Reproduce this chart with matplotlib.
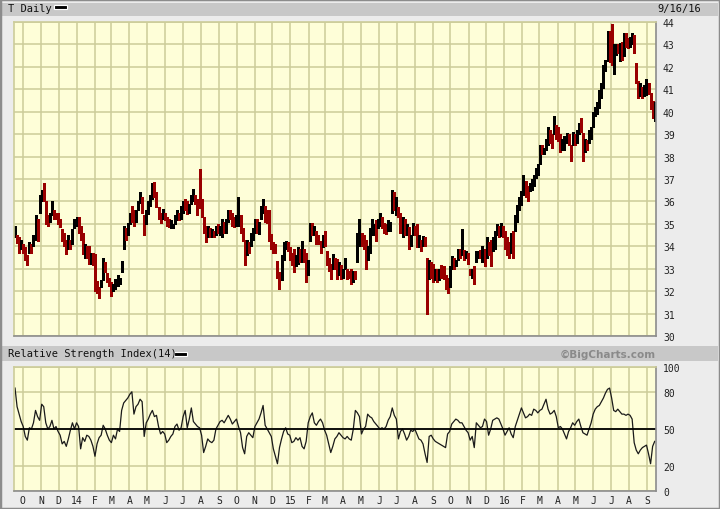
#!/usr/bin/env python3
# T Daily price bars with RSI(14) panel, BigCharts style
# values, two bars per trading week

import pandas as pd
import matplotlib
matplotlib.use("Agg")
import matplotlib.pyplot as plt
import matplotlib.dates as mdates
from matplotlib.patches import Rectangle

# Data: half-week periods (3.5 days) from 9/16/13 to 9/16/16
period_start = pd.date_range("2013-09-16", periods=313, freq="84h")

high = [34.9, 34.5, 34.4, 34.3, 34.1, 33.95, 33.6, 34.2, 34.1, 34.5,
        35.4, 35.2, 36.3, 36.5, 36.8, 36.0, 35.4, 35.5, 36.0, 35.6,
        35.5, 35.5, 35.2, 34.75, 34.6, 34.3, 34.5, 34.3, 34.75, 35.2,
        35.3, 35.3, 34.9, 34.6, 34.1, 34.0, 34.0, 33.7, 33.7, 33.65,
        32.45, 32.2, 32.5, 33.5, 33.3, 32.8, 32.6, 32.4, 32.3, 32.55,
        32.7, 32.6, 33.35, 34.9, 34.8, 35.05, 35.5, 35.8, 35.6, 35.6,
        36.0, 36.4, 36.2, 35.4, 35.6, 36.0, 36.3, 36.8, 36.85, 36.4,
        35.75, 35.5, 35.65, 35.5, 35.3, 35.2, 35.15, 35.0, 35.4, 35.6,
        35.5, 35.8, 36.0, 36.1, 36.0, 35.9, 36.3, 36.55, 36.3, 36.1,
        37.45, 36.1, 35.3, 34.9, 34.9, 34.8, 34.75, 34.7, 34.9, 35.0,
        34.9, 35.2, 35.1, 35.2, 35.6, 35.6, 35.5, 35.3, 35.4, 36.2,
        35.4, 34.8, 34.3, 34.3, 34.2, 34.6, 34.8, 35.2, 35.2, 35.1,
        35.8, 36.1, 35.8, 35.6, 35.6, 34.55, 34.2, 34.1, 33.35, 32.85,
        33.6, 34.2, 34.25, 34.2, 33.95, 33.7, 33.9, 33.6, 33.95, 33.9,
        34.25, 33.9, 33.7, 33.4, 35.05, 35.05, 34.9, 34.7, 34.5, 34.25,
        34.5, 34.7, 33.8, 33.5, 33.2, 33.65, 33.5, 33.45, 33.3, 33.15,
        33.0, 33.5, 33.0, 32.9, 33.0, 32.9, 32.9, 34.6, 35.2, 34.6,
        34.5, 34.3, 34.0, 34.8, 35.2, 35.0, 35.15, 35.2, 35.5, 35.3,
        35.05, 35.0, 35.15, 35.1, 36.5, 36.4, 36.2, 35.75, 35.5, 35.3,
        35.2, 35.0, 34.85, 34.5, 35.05, 34.9, 35.0, 34.5, 34.3, 34.45,
        34.4, 33.5, 33.4, 33.3, 33.2, 33.0, 33.0, 33.0, 33.15, 33.1,
        32.7, 32.6, 33.1, 33.55, 33.5, 33.4, 33.9, 33.9, 34.75, 33.85,
        33.8, 33.7, 33.0, 33.0, 33.1, 33.8, 33.8, 33.85, 34.0, 33.9,
        34.4, 34.2, 34.3, 34.4, 34.7, 35.0, 34.9, 35.05, 34.9, 34.7,
        34.4, 34.2, 34.6, 34.7, 35.4, 35.85, 36.2, 36.45, 37.2, 36.9,
        36.7, 36.8, 37.0, 37.2, 37.5, 37.65, 38.5, 38.5, 38.4, 38.8,
        39.3, 39.2, 39.0, 39.8, 39.4, 39.3, 39.0, 38.8, 38.9, 39.05,
        39.0, 38.5, 39.1, 39.0, 39.2, 39.5, 39.7, 39.05, 38.8, 38.75,
        39.2, 39.3, 40.0, 40.2, 40.45, 40.95, 41.3, 42.1, 42.3, 43.6,
        43.6, 43.9, 43.0, 43.0, 43.0, 43.05, 43.1, 43.5, 43.5, 43.3,
        43.35, 43.5, 43.4, 42.15, 41.35, 41.3, 41.1, 41.2, 41.45, 41.3,
        40.85, 40.5, 40.45]

low = [34.4, 34.15, 33.7, 33.9, 33.7, 33.4, 33.15, 33.7, 33.7, 34.0,
       34.3, 34.25, 35.5, 36.0, 36.0, 35.0, 34.9, 35.1, 35.4, 35.2,
       35.2, 35.0, 34.85, 34.25, 34.0, 33.65, 33.9, 33.9, 34.1, 34.8,
       34.9, 34.6, 34.3, 33.65, 33.5, 33.5, 33.2, 33.2, 33.15, 32.0,
       31.9, 31.7, 32.2, 32.5, 32.85, 32.4, 32.25, 31.8, 32.0, 32.1,
       32.25, 32.3, 32.85, 33.9, 34.3, 34.5, 35.0, 35.1, 34.9, 35.1,
       35.6, 35.95, 35.5, 34.5, 35.0, 35.45, 35.8, 36.1, 36.2, 35.75,
       35.2, 35.05, 35.2, 35.15, 34.9, 34.85, 34.8, 34.8, 35.0, 35.15,
       35.15, 35.2, 35.5, 35.6, 35.45, 35.5, 35.9, 36.0, 35.9, 35.4,
       35.7, 35.3, 34.6, 34.2, 34.4, 34.4, 34.4, 34.4, 34.5, 34.6,
       34.5, 34.4, 34.6, 34.6, 35.1, 35.2, 34.9, 34.85, 34.9, 34.9,
       34.6, 34.25, 33.15, 33.6, 33.7, 34.0, 34.3, 34.6, 34.6, 34.55,
       35.2, 35.5, 35.1, 35.05, 34.25, 33.9, 33.7, 33.7, 32.6, 32.1,
       32.5, 33.4, 33.9, 33.8, 33.4, 33.15, 32.85, 33.1, 33.2, 33.3,
       33.3, 33.3, 32.4, 32.7, 34.25, 34.5, 34.5, 34.1, 34.1, 33.7,
       33.95, 34.0, 33.15, 32.9, 32.55, 33.0, 33.0, 32.55, 32.7, 32.55,
       32.6, 33.0, 32.55, 32.6, 32.3, 32.4, 32.55, 33.3, 34.0, 34.0,
       33.9, 33.0, 33.4, 33.7, 34.5, 34.5, 34.25, 34.8, 34.9, 34.8,
       34.6, 34.55, 34.7, 34.7, 35.5, 35.6, 35.4, 35.3, 34.6, 34.4,
       34.5, 34.5, 33.9, 34.0, 34.5, 34.5, 33.95, 33.95, 33.8, 34.0,
       34.0, 31.0, 32.55, 32.6, 32.4, 32.5, 32.4, 32.5, 32.6, 32.55,
       32.1, 31.9, 32.2, 33.0, 33.0, 33.1, 33.4, 33.5, 33.6, 33.4,
       33.5, 33.2, 32.7, 32.6, 32.3, 33.3, 33.5, 33.5, 33.3, 33.1,
       33.5, 33.6, 33.1, 33.8, 33.9, 34.5, 34.4, 34.45, 34.4, 33.9,
       33.6, 33.5, 33.7, 33.5, 34.7, 35.1, 35.6, 35.85, 36.3, 36.2,
       36.0, 36.45, 36.5, 36.7, 37.05, 37.2, 37.65, 38.1, 38.1, 38.3,
       38.5, 38.6, 38.4, 39.0, 38.8, 38.7, 38.2, 38.3, 38.3, 38.6,
       38.5, 37.8, 38.5, 38.5, 38.6, 39.0, 39.1, 37.8, 38.2, 38.3,
       38.6, 38.8, 39.3, 39.8, 39.9, 40.15, 40.6, 41.05, 41.8, 42.25,
       42.2, 42.1, 41.7, 42.55, 42.6, 42.25, 42.3, 42.5, 42.9, 42.85,
       42.9, 43.0, 42.6, 41.3, 40.6, 40.7, 40.6, 40.7, 40.75, 40.8,
       40.1, 39.7, 39.6]

close = [34.5, 34.2, 33.8, 34.2, 33.8, 33.5, 33.4, 34.0, 33.9, 34.4,
         35.1, 34.9, 36.1, 36.3, 36.2, 35.3, 35.1, 35.3, 35.8, 35.4,
         35.3, 35.2, 34.9, 34.4, 34.2, 33.8, 34.3, 34.2, 34.6, 35.1,
         35.2, 34.8, 34.4, 33.8, 33.9, 33.7, 33.4, 33.5, 33.3, 32.3,
         32.1, 31.9, 32.4, 33.2, 33.0, 32.5, 32.3, 32.0, 32.2, 32.4,
         32.5, 32.5, 33.2, 34.6, 34.5, 34.9, 35.4, 35.3, 35.0, 35.5,
         35.9, 36.2, 35.6, 34.8, 35.5, 35.8, 36.1, 36.5, 36.4, 35.9,
         35.3, 35.2, 35.5, 35.3, 35.0, 34.9, 34.9, 34.9, 35.3, 35.4,
         35.2, 35.7, 35.8, 35.7, 35.6, 35.8, 36.2, 36.3, 36.0, 35.9,
         35.8, 35.5, 34.8, 34.4, 34.7, 34.5, 34.6, 34.5, 34.8, 34.7,
         34.8, 35.0, 34.9, 34.9, 35.5, 35.3, 35.1, 35.0, 35.2, 35.8,
         34.8, 34.4, 33.5, 34.0, 33.9, 34.4, 34.7, 35.0, 34.8, 35.0,
         35.7, 35.8, 35.3, 35.2, 34.5, 34.0, 33.9, 33.8, 32.8, 32.4,
         33.4, 34.0, 34.1, 33.9, 33.5, 33.4, 33.1, 33.5, 33.6, 33.5,
         34.0, 33.5, 32.8, 33.2, 34.9, 34.7, 34.8, 34.3, 34.2, 33.9,
         34.4, 34.2, 33.3, 33.0, 32.7, 33.5, 33.1, 32.8, 33.0, 32.7,
         32.9, 33.3, 32.8, 32.7, 32.5, 32.8, 32.7, 34.3, 34.9, 34.2,
         34.1, 33.3, 33.8, 34.6, 34.8, 34.9, 34.5, 35.1, 35.3, 34.9,
         34.8, 34.7, 35.0, 35.0, 36.2, 35.8, 35.9, 35.5, 34.8, 35.0,
         34.7, 34.8, 34.1, 34.3, 34.9, 34.7, 34.2, 34.3, 34.0, 34.3,
         34.1, 32.9, 33.0, 32.8, 32.6, 32.8, 32.6, 32.9, 32.8, 32.7,
         32.3, 32.2, 33.0, 33.3, 33.2, 33.3, 33.8, 33.7, 33.7, 33.6,
         33.6, 33.3, 32.8, 32.9, 32.6, 33.6, 33.7, 33.6, 33.8, 33.4,
         34.1, 33.8, 33.4, 34.2, 34.5, 34.8, 34.6, 34.9, 34.5, 34.1,
         33.9, 33.7, 34.3, 33.6, 35.2, 35.6, 36.0, 36.3, 36.9, 36.4,
         36.3, 36.7, 36.9, 37.0, 37.4, 37.6, 38.3, 38.2, 38.3, 38.7,
         39.1, 38.8, 38.6, 39.2, 39.1, 38.9, 38.4, 38.5, 38.7, 38.9,
         38.6, 38.0, 38.9, 38.8, 39.0, 39.4, 39.3, 38.4, 38.6, 38.5,
         39.0, 39.2, 39.8, 40.0, 40.3, 40.7, 41.1, 41.9, 42.1, 43.3,
         42.6, 42.3, 42.6, 42.8, 42.7, 42.9, 42.6, 43.2, 43.1, 43.0,
         43.2, 43.3, 42.9, 41.5, 40.9, 41.1, 40.8, 40.9, 41.1, 41.0,
         40.3, 39.9, 40.2]

rsi = [83, 68, 62, 56, 52, 44, 41, 51, 50, 55,
       65, 60, 57, 70, 68, 55, 50, 52, 57, 50,
       52, 48, 45, 38, 40, 36, 42, 49, 55, 50,
       55, 52, 34, 43, 40, 45, 44, 41, 36, 28,
       38, 43, 45, 53, 50, 45, 41, 39, 45, 42,
       50, 48, 65, 71, 73, 75, 78, 80, 62, 68,
       70, 74, 72, 44, 55, 58, 62, 65, 60, 61,
       52, 46, 48, 46, 39, 41, 44, 46, 52, 54,
       49, 51, 60, 65, 51, 58, 67, 56, 54, 52,
       51, 45, 31, 36, 42, 40, 39, 41, 50, 53,
       56, 57, 55, 58, 61, 58, 54, 56, 58, 52,
       47, 35, 30, 44, 47, 45, 43, 52, 55, 58,
       63, 69, 53, 50, 47, 44, 34, 28, 22, 35,
       42, 48, 51, 46, 45, 39, 40, 43, 41, 43,
       36, 34, 40, 55, 60, 63, 55, 53, 56, 58,
       55, 49, 45, 38, 31, 36, 42, 44, 47, 45,
       43, 42, 44, 42, 41, 50, 65, 63, 60, 46,
       50, 52, 62, 60, 59, 56, 54, 52, 50, 51,
       50, 52, 57, 60, 67, 61, 58, 42, 48, 50,
       46, 41, 44, 49, 48, 50, 46, 42, 41, 38,
       30, 23, 44, 45, 42, 40, 39, 38, 37, 36,
       35, 46, 48, 54, 56, 58, 57, 55, 55, 52,
       49, 47, 41, 44, 35, 55, 53, 51, 52, 58,
       56, 45, 50, 57, 58, 59, 58, 54, 50, 45,
       48, 51, 46, 43, 52, 57, 62, 67, 63, 59,
       60, 62, 61, 66, 65, 63, 65, 66, 70, 74,
       66, 62, 63, 65, 60, 51, 52, 50, 46, 42,
       48, 51, 55, 53, 56, 58, 52, 47, 46, 45,
       50, 55, 62, 66, 68, 69, 72, 75, 79, 82,
       83, 75, 65, 64, 66, 64, 62, 62, 61, 62,
       61, 58, 39, 33, 30, 33, 35, 36, 37, 30,
       22, 36, 40]

month_ticks = pd.date_range("2013-10-01", "2016-09-01", freq="MS")
month_labels = ["O", "N", "D", "14", "F", "M", "A", "M", "J", "J", "A", "S",
                "O", "N", "D", "15", "F", "M", "A", "M", "J", "J", "A", "S",
                "O", "N", "D", "16", "F", "M", "A", "M", "J", "J", "A", "S"]
price_ticks = list(range(30, 45))
rsi_ticks = [0, 20, 50, 80, 100]

# Style
W, H = 720, 510
BG = "#ececec"
BAND = "#c8c8c8"
PLOT_BG = "#fefed8"
GRID = "#cccc99"
SHADOW = "#8c8c8c"
UP = "#000000"
DOWN = "#990000"
MONO = "DejaVu Sans Mono"


def box(x0, y0, x1, y1):
    """pixel box (top-left origin) -> figure fraction rect"""
    return [x0 / W, 1 - y1 / H, (x1 - x0) / W, (y1 - y0) / H]


def style_panel(ax):
    ax.set_facecolor(PLOT_BG)
    ax.set_axisbelow(True)
    ax.grid(True, color=GRID, lw=1.1)
    ax.spines["top"].set_color(GRID)
    ax.spines["left"].set_color(GRID)
    ax.spines["bottom"].set_color(SHADOW)
    ax.spines["right"].set_color(SHADOW)
    for s in ax.spines.values():
        s.set_linewidth(1.2)
    ax.tick_params(length=0, labelleft=False, labelright=True,
                   labelsize=7, pad=5, colors="#222222")
    for lab in ax.get_yticklabels() + ax.get_xticklabels():
        lab.set_family(MONO)


fig = plt.figure(figsize=(W / 100, H / 100), dpi=100, facecolor=BG)

x = mdates.date2num(period_start) + 1.75
x_lo = mdates.date2num(pd.Timestamp("2013-09-16"))
x_hi = mdates.date2num(pd.Timestamp("2016-09-16"))
month_x = mdates.date2num(month_ticks)

# price panel: black bar = close up, red bar = close down
ax1 = fig.add_axes(box(14, 23, 656, 337))
cols = [UP] + [UP if close[i] >= close[i - 1] else DOWN for i in range(1, len(close))]
ax1.vlines(x, low, high, colors=cols, lw=0.75, antialiased=False)
ax1.set_xlim(x_lo, x_hi)
ax1.set_ylim(30, 44)
ax1.set_yticks(price_ticks)
ax1.set_xticks(month_x)
ax1.set_xticklabels([])
style_panel(ax1)
ax1.tick_params(labelbottom=False)

# RSI panel
ax2 = fig.add_axes(box(14, 368, 656, 492))
ax2.plot(x, rsi, color="#1a1a1a", lw=0.9)
ax2.axhline(50, color="black", lw=1.3)
ax2.set_xlim(x_lo, x_hi)
ax2.set_ylim(0, 100)
ax2.set_yticks(rsi_ticks)
ax2.set_xticks(month_x)
ax2.set_xticklabels(month_labels)
style_panel(ax2)
ax2.tick_params(axis="x", pad=3)

# header bands
fig.add_artist(Rectangle(box(2, 4, 718, 17)[:2], 716 / W, 13 / H,
                         transform=fig.transFigure, color=BAND, lw=0))
fig.add_artist(Rectangle(box(2, 347, 718, 362)[:2], 716 / W, 15 / H,
                         transform=fig.transFigure, color=BAND, lw=0))

fig.text(8 / W, 1 - 9 / H, "T Daily", family=MONO, fontsize=7.5,
         va="center", ha="left", color="#111111")
fig.add_artist(Rectangle(box(54, 6, 67, 10)[:2], 13 / W, 4 / H,
                         transform=fig.transFigure, facecolor="black",
                         edgecolor="white", lw=0.8))
fig.text(657 / W, 1 - 9 / H, "9/16/16", family=MONO, fontsize=7.5,
         va="center", ha="left", color="#111111")

fig.text(8 / W, 1 - 354.5 / H, "Relative Strength Index(14)", family=MONO,
         fontsize=7.5, va="center", ha="left", color="#111111")
fig.add_artist(Rectangle(box(174, 352.5, 187, 356.5)[:2], 13 / W, 4 / H,
                         transform=fig.transFigure, facecolor="black",
                         edgecolor="white", lw=0.8))
fig.text(656 / W, 1 - 354.5 / H, "\u00a9BigCharts.com", family="DejaVu Sans",
         fontweight="bold", fontsize=7.5, va="center", ha="right", color="#8a8a8a")

# outer frame
fig.add_artist(Rectangle((0, 0), 1, 1, transform=fig.transFigure,
                         fill=False, edgecolor="#8c8c8c", lw=2.5))

fig.savefig("out.png", dpi=100, facecolor=BG)
